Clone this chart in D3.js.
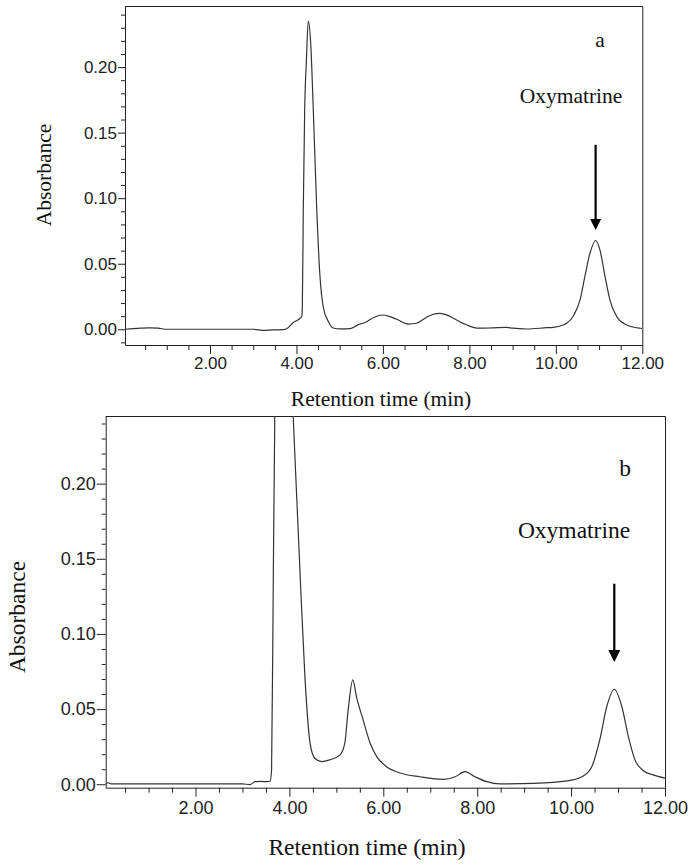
<!DOCTYPE html>
<html><head><meta charset="utf-8">
<script src="https://cdn.jsdelivr.net/npm/d3@7"></script>
<style>body{margin:0;background:#fff}svg{display:block}</style>
</head><body>
<svg id="chart" width="692" height="865"></svg>
<script>
// ---- data ----
const timeA = [0.03,0.4,0.6,0.8,1.0,2.0,3.0,3.25,3.45,3.7,3.8,3.92,4.05,4.12,4.135,4.158,4.19,4.23,4.274,4.33,4.39,4.47,4.545,4.62,4.737,4.85,5.0,5.24,5.4,5.625,5.8,5.986,6.15,6.32,6.59,6.78,7.01,7.15,7.32,7.47,7.63,7.94,8.21,8.5,8.86,9.0,9.33,9.79,9.94,10.17,10.25,10.41,10.56,10.67,10.79,10.92,11.02,11.14,11.25,11.41,11.64,11.95,12.0];
const absA  = [0,0.0008,0.001,0.0008,0,0,0,-0.0008,-0.0005,-0.0003,0.001,0.005,0.0075,0.0095,0.0147,0.091,0.167,0.205,0.235,0.218,0.167,0.091,0.040,0.017,0.006,0.001,0.0003,0.0005,0.003,0.0058,0.0092,0.0109,0.0098,0.0076,0.004,0.0046,0.0092,0.0113,0.0122,0.011,0.0084,0.0033,0.0008,0.001,0.0015,0.0008,0.0002,0.0012,0.0015,0.0033,0.0045,0.0105,0.0224,0.040,0.058,0.0677,0.0605,0.040,0.0224,0.0096,0.0033,0.0008,0.0006];

const timeB = [0.087,0.14,0.2,1.0,2.0,3.0,3.16,3.27,3.4,3.52,3.59,3.62,3.657,3.69,3.75,3.85,3.92,4.0,4.08,4.23,4.33,4.44,4.54,4.69,4.86,5.08,5.18,5.25,5.35,5.43,5.57,5.72,5.86,6.07,6.36,6.78,7.28,7.53,7.74,7.95,8.2,8.49,9.19,9.91,10.23,10.44,10.61,10.76,10.92,11.08,11.22,11.36,11.54,11.75,12.0];
const absB  = [0.0003,0.001,0.0002,0.0002,0.0002,0.0002,-0.0002,0.0017,0.0019,0.0017,0.002,0.0095,0.138,0.25,0.33,0.39,0.37,0.30,0.245,0.138,0.0716,0.0273,0.0173,0.015,0.0162,0.0195,0.0273,0.049,0.0694,0.058,0.0428,0.0273,0.0184,0.0117,0.0075,0.005,0.0033,0.005,0.0084,0.005,0.0017,0.0002,0.0006,0.0022,0.005,0.0117,0.0295,0.0517,0.0632,0.0517,0.0317,0.0162,0.009,0.0062,0.004];

const xMajorTicks = [2,4,6,8,10,12];
const xTickLabels = ["2.00","4.00","6.00","8.00","10.00","12.00"];
const yMajorTicks = [0,0.05,0.10,0.15,0.20];
const yTickLabels = ["0.00","0.05","0.10","0.15","0.20"];
const panelLetters = ["a","b"];
const peakName = "Oxymatrine";
const oxymatrineTime = 10.92;
const arrowA = [0.1407, 0.0758];   // tail, tip (absorbance)
const arrowB = [0.1334, 0.0814];
const xTitle = "Retention time (min)";
const yTitle = "Absorbance";

// ---- drawing ----
const svg = d3.select("#chart");
const SANS = "'Liberation Sans', Arial, sans-serif";
const SERIF = "'Liberation Serif', 'Times New Roman', serif";

function panel(cfg){
  const {L,R,T,B,xDom,yDom,times,vals,tickFont,titleFont,id} = cfg;
  const x = d3.scaleLinear().domain(xDom).range([L,R]);
  const y = d3.scaleLinear().domain(yDom).range([B,T]);
  const g = svg.append("g");

  svg.append("defs").append("clipPath").attr("id","clip"+id)
    .append("rect").attr("x",L).attr("y",T).attr("width",R-L).attr("height",B-T);

  // frame (top & right)
  g.append("path").attr("d",`M${L},${T+0.5}H${R+0.5}V${B}`)
    .attr("fill","none").attr("stroke","#222").attr("stroke-width",1);

  // x minor ticks
  const xMinor = d3.range(0.5,12.01,0.5).filter(v=>v>=xDom[0] && !xMajorTicks.includes(v));
  g.append("g").attr("transform",`translate(0,${B})`)
    .call(d3.axisBottom(x).tickValues(xMinor).tickSize(5).tickFormat("").tickSizeOuter(0))
    .call(s=>s.select(".domain").remove());
  const xa = g.append("g").attr("transform",`translate(0,${B})`)
    .call(d3.axisBottom(x).tickValues(xMajorTicks).tickSize(9).tickPadding(cfg.xPad).tickSizeOuter(0)
      .tickFormat((d,i)=>xTickLabels[i]));
  xa.selectAll("text").attr("font-family",SANS).attr("font-size",tickFont).attr("fill","#222");

  // y minor ticks
  const yMinor = d3.range(-0.01,0.2401,0.01).map(v=>+v.toFixed(2))
    .filter(v=>v>=yDom[0] && v<=yDom[1] && !yMajorTicks.some(m=>Math.abs(m-v)<1e-6));
  g.append("g").attr("transform",`translate(${L},0)`)
    .call(d3.axisLeft(y).tickValues(yMinor).tickSize(4).tickFormat("").tickSizeOuter(0))
    .call(s=>s.select(".domain").remove());
  const ya = g.append("g").attr("transform",`translate(${L},0)`)
    .call(d3.axisLeft(y).tickValues(yMajorTicks).tickSize(cfg.yTick).tickPadding(1).tickSizeOuter(0)
      .tickFormat((d,i)=>yTickLabels[i]));
  ya.selectAll("text").attr("font-family",SANS).attr("font-size",tickFont).attr("fill","#222");
  g.selectAll(".domain,.tick line").attr("stroke","#222");

  // curve
  const pts = times.map((t,i)=>[t,vals[i]]);
  g.append("path").datum(pts).attr("clip-path",`url(#clip${id})`)
    .attr("fill","none").attr("stroke","#333").attr("stroke-width",1.2)
    .attr("d", d3.line().x(d=>x(d[0])).y(d=>y(d[1])).curve(d3.curveMonotoneX));

  // titles
  g.append("text").attr("x",cfg.xtX).attr("y",cfg.xtY).attr("text-anchor","middle")
    .attr("font-family",SERIF).attr("font-size",titleFont).attr("fill","#111").text(xTitle);
  g.append("text").attr("transform",`translate(${cfg.ytX},${cfg.ytY}) rotate(-90)`).attr("text-anchor","middle")
    .attr("font-family",SERIF).attr("font-size",titleFont).attr("fill","#111").text(yTitle);

  // letter + annotation
  g.append("text").attr("x",cfg.letX).attr("y",cfg.letY).attr("text-anchor","middle")
    .attr("font-family",SERIF).attr("font-size",titleFont).attr("fill","#111").text(cfg.letter);
  g.append("text").attr("x",cfg.nameX).attr("y",cfg.nameY).attr("text-anchor","middle")
    .attr("font-family",SERIF).attr("font-size",titleFont).attr("fill","#111").text(peakName);

  const ax = x(oxymatrineTime), y0 = y(cfg.arrow[0]), y1 = y(cfg.arrow[1]);
  const hh = cfg.headH, hw = cfg.headW;
  g.append("line").attr("x1",ax).attr("x2",ax).attr("y1",y0).attr("y2",y1-hh+1)
    .attr("stroke","#000").attr("stroke-width",2.2);
  g.append("path").attr("d",`M${ax-hw/2},${y1-hh}L${ax+hw/2},${y1-hh}L${ax},${y1}Z`).attr("fill","#000");
}

panel({id:"A",L:125,R:642.3,T:6,B:345,xDom:[0.034,12],yDom:[-0.012,0.2466],
  times:timeA,vals:absA,tickFont:17,titleFont:21.5,xPad:3,yTick:7,
  xtX:381,xtY:406,ytX:51,ytY:175,letter:panelLetters[0],letX:600,letY:47,
  nameX:571,nameY:103,arrow:arrowA,headH:11,headW:11});

panel({id:"B",L:105.7,R:665,T:416,B:787.7,xDom:[0.087,12],yDom:[-0.0023,0.245],
  times:timeB,vals:absB,tickFont:18,titleFont:23.5,xPad:5,yTick:9,
  xtX:367,xtY:855,ytX:25,ytY:617,letter:panelLetters[1],letX:625,letY:476,
  nameX:574,nameY:538,arrow:arrowB,headH:12,headW:12});
</script>
</body></html>
